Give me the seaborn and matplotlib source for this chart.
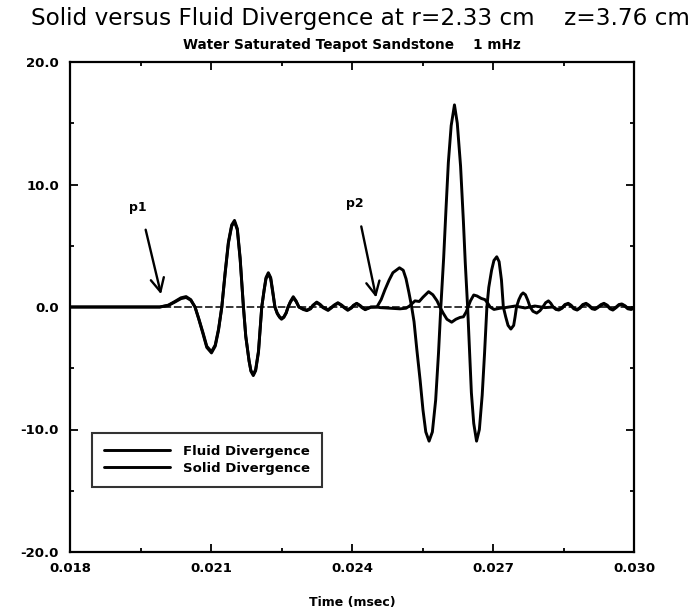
import matplotlib
matplotlib.use("Agg")
import matplotlib.pyplot as plt
import seaborn as sns
import pandas as pd
from matplotlib.ticker import FixedLocator, MultipleLocator

# ---------------- data (time in msec, divergence) ----------------
# fast-wave arrival (fluid and solid nearly identical)
time_onset = [0.01800, 0.01864, 0.01928, 0.01991, 0.02009, 0.02023, 0.02036, 0.02047,
              0.02057, 0.02066, 0.02074, 0.02083, 0.02091, 0.02101, 0.02109, 0.02116,
              0.02123, 0.02130, 0.02137, 0.02144, 0.02150, 0.02156, 0.02162, 0.02169,
              0.02174, 0.02181, 0.02185, 0.02190, 0.02195, 0.02201, 0.02208, 0.02213,
              0.02217, 0.02222, 0.02227, 0.02231, 0.02236, 0.02241, 0.02246, 0.02250,
              0.02255, 0.02260, 0.02264, 0.02269, 0.02275, 0.02281, 0.02287]
fluid_onset = [0, 0, 0, 0, 0.12, 0.4, 0.68, 0.78, 0.55,
               0.0, -0.95, -2.1, -3.2, -3.65, -3.1, -1.8,
               0.0, 2.7, 5.2, 6.6, 6.95, 6.3, 3.9,
               0.0, -2.4, -4.4, -5.25, -5.6, -5.2, -3.7,
               0.0, 1.35, 2.3, 2.7, 2.3, 1.3,
               0.0, -0.55, -0.85, -1.0, -0.85, -0.5,
               0.0, 0.4, 0.75, 0.45, 0.0]
solid_onset = [0, 0, 0, 0, 0.15, 0.45, 0.75, 0.85, 0.6,
               0.0, -1.0, -2.2, -3.3, -3.75, -3.2, -1.9,
               0.0, 2.8, 5.3, 6.7, 7.07, 6.4, 4.0,
               0.0, -2.4, -4.4, -5.2, -5.5, -5.1, -3.6,
               0.0, 1.4, 2.4, 2.8, 2.4, 1.4,
               0.0, -0.5, -0.8, -0.92, -0.8, -0.45,
               0.0, 0.45, 0.84, 0.5, 0.0]

# ripples between the two arrivals
time_coda1 = [0.02296, 0.02304, 0.02312, 0.02317, 0.02325, 0.02332, 0.02338, 0.02349,
              0.02356, 0.02362, 0.02370, 0.02378, 0.02383, 0.02391, 0.02399, 0.02403,
              0.02410, 0.02417, 0.02421, 0.02428, 0.02434, 0.02440, 0.02453]
fluid_coda1 = [-0.2, -0.3, -0.15, 0.12, 0.35, 0.18, -0.05, -0.28, -0.08, 0.12, 0.3, 0.12,
               -0.05, -0.27, -0.08, 0.1, 0.28, 0.1, -0.05, -0.22, -0.12, -0.02, 0.0]
solid_coda1 = [-0.15, -0.25, -0.1, 0.15, 0.4, 0.22, 0.0, -0.22, -0.03, 0.16, 0.35, 0.16,
               0.0, -0.22, -0.03, 0.14, 0.3, 0.13, 0.0, -0.18, -0.1, 0.0, 0.0]

# slow-wave arrival: large fluid divergence
time_fluid_slow = [0.02462, 0.02470, 0.02479, 0.02487, 0.02501, 0.02509, 0.02515, 0.02521, 0.02527,
                   0.02532, 0.02538, 0.02545, 0.02551, 0.02557, 0.02564, 0.02571, 0.02578, 0.02584, 0.02589,
                   0.02595, 0.02600, 0.02605, 0.02611, 0.02618, 0.02624, 0.02631, 0.02637, 0.02641, 0.02646,
                   0.02650, 0.02654, 0.02659, 0.02665, 0.02671, 0.02677, 0.02682, 0.02687,
                   0.02691, 0.02697, 0.02702, 0.02708, 0.02713, 0.02718, 0.02722,
                   0.02727, 0.02732, 0.02738, 0.02744, 0.02747, 0.02750,
                   0.02755, 0.02760, 0.02764, 0.02769, 0.02774, 0.02779,
                   0.02785, 0.02793, 0.02800, 0.02806,
                   0.02812, 0.02818, 0.02823, 0.02828]
fluid_slow = [0.6, 1.4, 2.2, 2.8, 3.2, 3.0, 2.3, 1.2, 0.0,
              -1.2, -3.5, -6.0, -8.4, -10.2, -10.95, -10.2, -7.6, -3.8, 0.0,
              4.0, 8.0, 11.8, 14.8, 16.5, 15.0, 11.5, 7.0, 3.6, 0.0,
              -3.5, -7.0, -9.5, -10.95, -10.0, -7.2, -3.8, 0.0,
              1.6, 3.0, 3.8, 4.1, 3.7, 2.2, 0.0,
              -0.8, -1.5, -1.8, -1.5, -0.8, 0.0,
              0.6, 1.0, 1.15, 1.0, 0.55, 0.0,
              -0.35, -0.5, -0.3, 0.0,
              0.35, 0.5, 0.3, 0.0]

# slow-wave arrival: small, opposite solid divergence
time_solid_slow = [0.02460, 0.02481, 0.02502, 0.02515, 0.02523, 0.02534, 0.02543, 0.02551,
                   0.02563, 0.02572, 0.02581, 0.02587, 0.02594, 0.02602, 0.02612, 0.02621,
                   0.02630, 0.02637, 0.02643, 0.02647, 0.02652, 0.02659, 0.02666, 0.02675,
                   0.02683, 0.02689, 0.02694, 0.02702, 0.02715, 0.02726, 0.02747, 0.02768,
                   0.02789, 0.02811, 0.02828]
solid_slow = [-0.05, -0.1, -0.15, -0.1, 0.1, 0.5, 0.45, 0.8,
              1.25, 1.0, 0.5, 0.0, -0.5, -1.0, -1.24, -1.0,
              -0.85, -0.8, -0.4, 0.0, 0.5, 0.98, 0.9, 0.7,
              0.6, 0.3, 0.0, -0.2, -0.1, -0.05, 0.08, -0.08,
              0.08, -0.05, 0.0]

# trailing ripples
time_coda2 = [0.02834, 0.02840, 0.02847, 0.02853, 0.02860, 0.02866, 0.02872, 0.02879, 0.02885,
              0.02891, 0.02898, 0.02904, 0.02911, 0.02917, 0.02923, 0.02930, 0.02936, 0.02943,
              0.02949, 0.02955, 0.02962, 0.02968, 0.02974, 0.02981, 0.02987, 0.02994, 0.03000]
fluid_coda2 = [-0.2, -0.25, -0.1, 0.15, 0.25, 0.1, -0.15, -0.25, -0.1, 0.15, 0.25, 0.1, -0.15, -0.2,
               -0.05, 0.15, 0.25, 0.1, -0.15, -0.25, -0.05, 0.15, 0.2, 0.05, -0.15, -0.2, -0.1]
solid_coda2 = [-0.15, -0.2, -0.05, 0.2, 0.3, 0.15, -0.1, -0.2, -0.05, 0.2, 0.3, 0.15, -0.1, -0.15,
               0.0, 0.2, 0.3, 0.15, -0.1, -0.2, 0.0, 0.2, 0.25, 0.1, -0.1, -0.15, -0.05]

series_names = ["Fluid Divergence", "Solid Divergence"]
x_ticks = [0.018, 0.021, 0.024, 0.027, 0.030]
x_tick_labels = ["0.018", "0.021", "0.024", "0.027", "0.030"]
y_ticks = [-20, -10, 0, 10, 20]
y_tick_labels = ["-20.0", "-10.0", "0.0", "10.0", "20.0"]

title = "Solid versus Fluid Divergence at r=2.33 cm    z=3.76 cm"
subtitle = "Water Saturated Teapot Sandstone    1 mHz"
x_label = "Time (msec)"

# ---------------- assemble ----------------
fluid_t = time_onset + time_coda1 + time_fluid_slow + time_coda2
fluid_v = fluid_onset + fluid_coda1 + fluid_slow + fluid_coda2
solid_t = time_onset + time_coda1 + time_solid_slow + time_coda2
solid_v = solid_onset + solid_coda1 + solid_slow + solid_coda2

df = pd.concat([
    pd.DataFrame({"time": fluid_t, "div": fluid_v, "series": series_names[0]}),
    pd.DataFrame({"time": solid_t, "div": solid_v, "series": series_names[1]}),
], ignore_index=True)

# ---------------- plot ----------------
sns.set_theme(style="ticks")
plt.rcParams["font.family"] = ["DejaVu Sans"]
plt.rcParams["text.color"] = "black"
plt.rcParams["axes.labelcolor"] = "black"

fig = plt.figure(figsize=(6.91, 6.15), dpi=100)
ax = fig.add_axes([70 / 691, 1 - 552 / 615, 564 / 691, 490 / 615])

ax.axhline(0, color="black", lw=1.1, dashes=(5, 1.8), zorder=1)
sns.lineplot(data=df, x="time", y="div", hue="series", hue_order=series_names,
             palette={series_names[0]: "black", series_names[1]: "black"},
             estimator=None, sort=False, lw=2.1, legend=False, ax=ax, zorder=3)

ax.set_xlim(0.018, 0.030)
ax.set_ylim(-20, 20)
ax.xaxis.set_major_locator(FixedLocator(x_ticks))
ax.set_xticklabels(x_tick_labels)
ax.yaxis.set_major_locator(FixedLocator(y_ticks))
ax.set_yticklabels(y_tick_labels)
ax.xaxis.set_minor_locator(MultipleLocator(0.0015))
ax.yaxis.set_minor_locator(MultipleLocator(5))
ax.tick_params(which="both", direction="in", top=True, right=True, width=1.3, colors="black")
ax.tick_params(which="major", length=6, labelsize=9.5)
ax.tick_params(which="minor", length=3)
ax.tick_params(axis="x", which="major", pad=7)
ax.tick_params(axis="y", which="major", pad=8)
for lab in ax.get_xticklabels() + ax.get_yticklabels():
    lab.set_fontweight("bold")
for sp in ax.spines.values():
    sp.set_linewidth(1.6)
    sp.set_color("black")

ax.set_xlabel(x_label, fontsize=9, fontweight="bold", color="black")
ax.xaxis.set_label_coords(0.5, (552 - 596) / 490)
ax.set_ylabel("")

fig.text(360 / 691, 1 - 19 / 615, title, ha="center", va="center", fontsize=16.7,
         color="black")
fig.text(352 / 691, 1 - 45 / 615, subtitle, ha="center", va="center",
         fontsize=9.8, fontweight="bold", color="black")

# arrival markers
arrow = dict(arrowstyle="->,head_length=0.8,head_width=0.4", lw=1.7, color="black")
ax.annotate("", xy=(0.019951, 0.82), xytext=(0.019596, 6.53), arrowprops=arrow)
ax.annotate("", xy=(0.024526, 0.55), xytext=(0.024185, 6.80), arrowprops=arrow)
ax.text(0.019447, 8.16, "p1", ha="center", va="center", fontsize=9, fontweight="bold")
ax.text(0.024064, 8.43, "p2", ha="center", va="center", fontsize=9, fontweight="bold")

lines = [l for l in ax.get_lines() if l.get_linewidth() > 1.5][:2]
leg = ax.legend(lines, series_names, loc="upper left",
                bbox_to_anchor=((92 - 70) / 564, (552 - 433) / 490),
                borderaxespad=0, frameon=True, fancybox=False, edgecolor="black",
                prop={"weight": "bold", "size": 9.5}, handlelength=5.0,
                handletextpad=1.0, labelspacing=0.3, borderpad=0.9)
leg.get_frame().set_linewidth(1.5)

fig.savefig("out.png", dpi=100)
